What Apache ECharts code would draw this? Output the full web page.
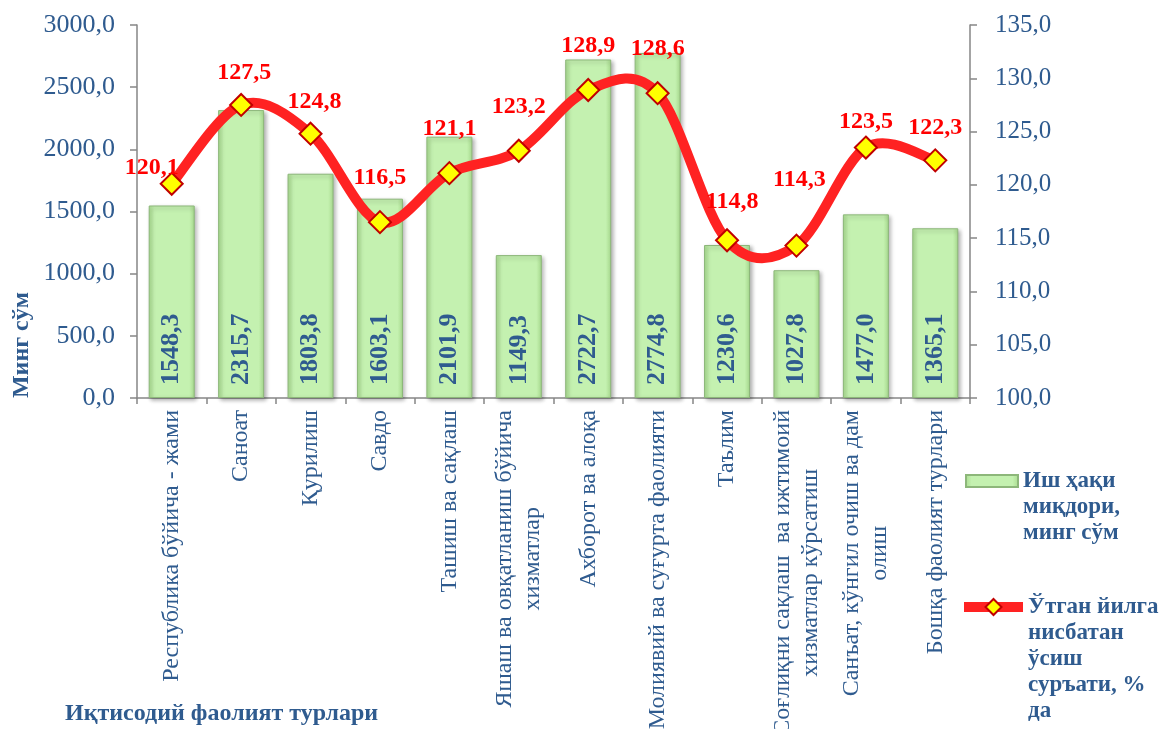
<!DOCTYPE html>
<html>
<head>
<meta charset="utf-8">
<script src="https://cdn.jsdelivr.net/npm/echarts@6/dist/echarts.min.js"></script>
<style>
  html, body { margin: 0; padding: 0; background: #fff; }
  #main { width: 1160px; height: 729px; }
</style>
</head>
<body>
<div id="main"></div>
<script>
var categories = [
  'Республика бўйича - жами',
  'Саноат',
  'Қурилиш',
  'Савдо',
  'Ташиш ва сақлаш',
  'Яшаш ва овқатланиш бўйича\nхизматлар',
  'Ахборот ва алоқа',
  'Молиявий ва суғурта фаолияти',
  'Таълим',
  'Соғлиқни сақлаш  ва ижтимоий\nхизматлар кўрсатиш',
  'Санъат, кўнгил очиш ва дам\nолиш',
  'Бошқа фаолият турлари'
];
var wageValues = [1548.3, 2315.7, 1803.8, 1603.1, 2101.9, 1149.3, 2722.7, 2774.8, 1230.6, 1027.8, 1477.0, 1365.1];
var growthValues = [120.1, 127.5, 124.8, 116.5, 121.1, 123.2, 128.9, 128.6, 114.8, 114.3, 123.5, 122.3];

var wageName = 'Иш ҳақи\nмиқдори,\nминг сўм';
var growthName = 'Ўтган йилга\nнисбатан\nўсиш\nсуръати, %\nда';

var blue = '#2F5B8F';
var red = '#FF2222';
var serif = '"Liberation Serif", "DejaVu Serif", serif';

// hand placed labels in the original, small nudges by point index
var labelNudge = {
  0: [-20, 28],
  1: [3, 12],
  2: [4, 12],
  8: [5, 6],
  9: [3, -22],
  10: [0, 18],
  11: [0, 11]
};

function comma(v) {
  return Number(v).toFixed(1).replace('.', ',');
}

// pad the legend text with empty lines on top so the icon sits next to the first line
function topAligned(name) {
  var n = name.split('\n').length;
  return new Array(n).join('\n') + name;
}

// excel-like smoothed curve: one bezier segment per pair of points
function curveSegment(params, api) {
  var i = params.dataIndex;
  var n = growthValues.length;
  if (i >= n - 1) return null;
  function pt(j) {
    j = Math.max(0, Math.min(n - 1, j));
    return api.coord([j, growthValues[j]]);
  }
  var p0 = pt(i - 1), p1 = pt(i), p2 = pt(i + 1), p3 = pt(i + 2);
  return {
    type: 'bezierCurve',
    shape: {
      x1: p1[0], y1: p1[1],
      x2: p2[0], y2: p2[1],
      cpx1: p1[0] + (p2[0] - p0[0]) / 6,
      cpy1: p1[1] + (p2[1] - p0[1]) / 6,
      cpx2: p2[0] - (p3[0] - p1[0]) / 6,
      cpy2: p2[1] - (p3[1] - p1[1]) / 6
    },
    style: { stroke: red, lineWidth: 10, fill: null, lineCap: 'round' }
  };
}

var chartDom = document.getElementById('main');
var myChart = echarts.init(chartDom);
var option;

option = {
  animation: false,
  textStyle: { fontFamily: serif },
  grid: {
    left: 137, right: 190, top: 25, bottom: 331,
    containLabel: false,
    outerBoundsMode: 'none'
  },
  legend: [
    {
      left: 965,
      top: 416,
      padding: 0,
      itemWidth: 52,
      itemHeight: 12,
      data: [{ name: wageName, icon: 'rect' }],
      formatter: topAligned,
      textStyle: {
        color: blue, fontFamily: serif, fontWeight: 'bold',
        fontSize: 23, lineHeight: 26
      }
    },
    {
      left: 959,
      top: 490,
      padding: 0,
      itemWidth: 59,
      itemHeight: 20,
      data: [{
        name: growthName,
        lineStyle: { color: red, width: 10, opacity: 1 }
      }],
      formatter: topAligned,
      textStyle: {
        color: blue, fontFamily: serif, fontWeight: 'bold',
        fontSize: 23, lineHeight: 26
      }
    }
  ],
  xAxis: {
    type: 'category',
    data: categories,
    axisLine: { lineStyle: { color: '#868686', width: 1.5 } },
    axisTick: { show: true, length: 6, lineStyle: { color: '#868686', width: 1.5 } },
    axisLabel: {
      rotate: 90,
      interval: 0,
      margin: 12,
      color: blue,
      fontFamily: serif,
      fontSize: 24,
      lineHeight: 28,
      formatter: function (v) {
        return v.split('\n').map(function (s) { return '{c|' + s + '}'; }).join('\n');
      },
      rich: {
        c: { align: 'center', color: blue, fontFamily: serif, fontSize: 24, lineHeight: 28 }
      }
    }
  },
  yAxis: [
    {
      type: 'value',
      min: 0,
      max: 3000,
      interval: 500,
      splitLine: { show: false },
      axisLine: { show: true, lineStyle: { color: '#868686', width: 1.5 } },
      axisTick: { show: true, length: 7, lineStyle: { color: '#868686', width: 1.5 } },
      axisLabel: { color: blue, fontFamily: serif, fontSize: 26, margin: 22, formatter: comma }
    },
    {
      type: 'value',
      position: 'right',
      min: 100,
      max: 135,
      interval: 5,
      splitLine: { show: false },
      axisLine: { show: true, lineStyle: { color: '#868686', width: 1.5 } },
      axisTick: { show: true, length: 7, lineStyle: { color: '#868686', width: 1.5 } },
      axisLabel: { color: blue, fontFamily: serif, fontSize: 25, margin: 25, formatter: comma }
    }
  ],
  graphic: [
    {
      type: 'text',
      x: 22,
      y: 345,
      rotation: Math.PI / 2,
      style: {
        text: 'Минг сўм',
        fill: blue,
        font: 'bold 24px ' + serif,
        align: 'center',
        verticalAlign: 'middle'
      }
    },
    {
      type: 'text',
      left: 65,
      top: 702,
      style: {
        text: 'Иқтисодий фаолият турлари',
        fill: blue,
        font: 'bold 24px ' + serif
      }
    }
  ],
  series: [
    {
      name: wageName,
      type: 'bar',
      yAxisIndex: 0,
      barWidth: 46,
      data: wageValues,
      itemStyle: {
        color: new echarts.graphic.LinearGradient(0, 0, 1, 0, [
          { offset: 0, color: '#A8DB8E' },
          { offset: 0.12, color: '#C4F1B0' },
          { offset: 0.88, color: '#C4F1B0' },
          { offset: 1, color: '#A8DB8E' }
        ]),
        borderColor: '#8DB77A',
        borderWidth: 1,
        shadowColor: 'rgba(0,0,0,0.3)',
        shadowBlur: 4,
        shadowOffsetX: 2,
        shadowOffsetY: 2
      },
      label: {
        show: true,
        position: 'insideBottom',
        rotate: 90,
        align: 'left',
        verticalAlign: 'middle',
        distance: 13,
        color: blue,
        fontFamily: serif,
        fontWeight: 'bold',
        fontSize: 26,
        formatter: function (p) { return comma(p.value); }
      }
    },
    {
      name: 'curve',
      type: 'custom',
      yAxisIndex: 1,
      z: 4,
      silent: true,
      data: growthValues.map(function (v, i) { return [i, v]; }),
      encode: { x: 0, y: 1 },
      renderItem: curveSegment
    },
    {
      name: growthName,
      type: 'line',
      yAxisIndex: 1,
      z: 5,
      data: growthValues.map(function (v, i) {
        if (labelNudge[i]) return { value: v, label: { offset: labelNudge[i] } };
        return v;
      }),
      symbol: 'diamond',
      symbolSize: 22,
      lineStyle: { color: red, width: 10, opacity: 0 },
      itemStyle: {
        color: '#FFFF00',
        borderColor: '#C00000',
        borderWidth: 2
      },
      label: {
        show: true,
        position: 'top',
        distance: 20,
        color: '#FF0000',
        fontFamily: serif,
        fontWeight: 'bold',
        fontSize: 24,
        formatter: function (p) { return comma(p.value); }
      }
    }
  ]
};

option && myChart.setOption(option);
</script>
</body>
</html>
